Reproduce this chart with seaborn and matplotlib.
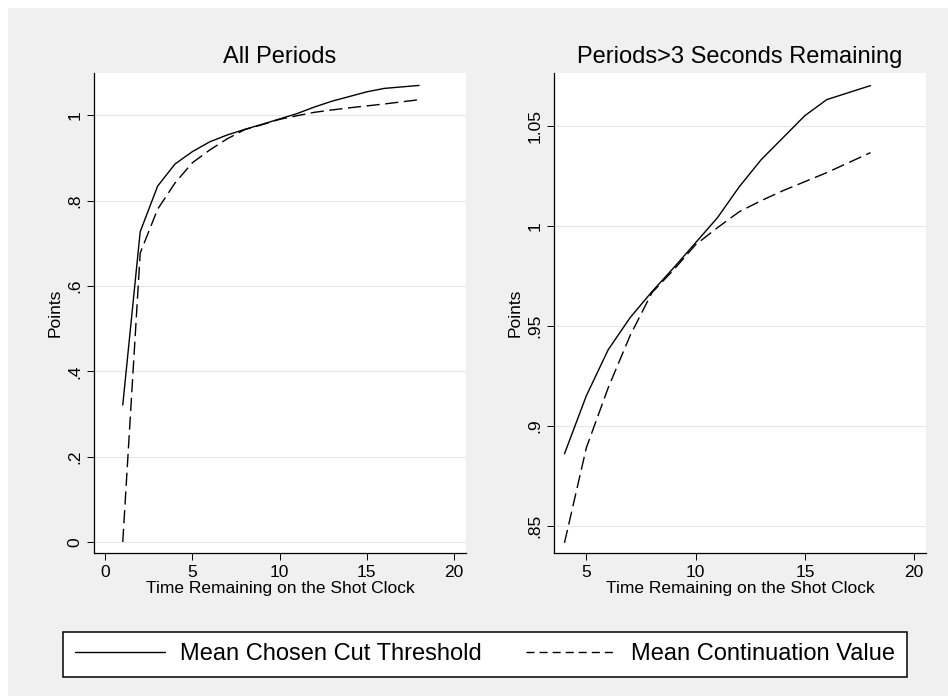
import pandas as pd
import matplotlib
matplotlib.use('Agg')
import matplotlib.pyplot as plt
import seaborn as sns

# chart data
time_left = [1, 2, 3, 4, 5, 6, 7, 8, 9, 10, 11, 12, 13, 14, 15, 16, 18]
cut_threshold = [0.321, 0.727, 0.834, 0.886, 0.915, 0.938, 0.954, 0.967, 0.979,
                 0.9915, 1.004, 1.0195, 1.033, 1.044, 1.055, 1.063, 1.070]
continuation = [0.0, 0.677, 0.78, 0.8415, 0.889, 0.919, 0.945, 0.9665, 0.978,
                0.9905, 0.999, 1.007, 1.0125, 1.0175, 1.022, 1.0265, 1.0365]

series_names = ['Mean Chosen Cut Threshold', 'Mean Continuation Value']
panel_titles = ['All Periods', 'Periods>3 Seconds Remaining']

left_yticks = [0, 0.2, 0.4, 0.6, 0.8, 1]
left_ylabels = ['0', '.2', '.4', '.6', '.8', '1']
right_yticks = [0.85, 0.9, 0.95, 1, 1.05]
right_ylabels = ['.85', '.9', '.95', '1', '1.05']
left_xticks = [0, 5, 10, 15, 20]
right_xticks = [5, 10, 15, 20]

#build long table
df = pd.DataFrame({'time': time_left * 2,
                   'points': cut_threshold + continuation,
                   'series': [series_names[0]] * len(time_left) + [series_names[1]] * len(time_left)})
df_late = df[df.time > 3]

sns.set_style('ticks', {'axes.edgecolor': 'black', 'axes.grid': True,
                        'grid.color': '#e6e6e6', 'axes.spines.top': False,
                        'axes.spines.right': False, 'text.color': 'black',
                        'axes.labelcolor': 'black', 'xtick.color': 'black',
                        'ytick.color': 'black'})
plt.rcParams['font.family'] = ['Liberation Sans', 'DejaVu Sans']
plt.rcParams['axes.linewidth'] = 0.9
plt.rcParams['grid.linewidth'] = 0.8

fig = plt.figure(figsize=(9.48, 6.96), dpi=100)
fig.patch.set_facecolor('white')
fig.patches.append(plt.Rectangle((8 / 948, 0), 1, 1 - 8 / 696, transform=fig.transFigure,
                                 facecolor='#f0f0f0', edgecolor='none', zorder=-10))

ax1 = fig.add_axes([94 / 948, 1 - 553 / 696, 372 / 948, 480 / 696])
ax2 = fig.add_axes([554 / 948, 1 - 553 / 696, 372 / 948, 480 / 696])

dash_map = {series_names[0]: '', series_names[1]: (9.5, 4)}
pal = {series_names[0]: 'black', series_names[1]: 'black'}

panels = [(ax1, df, (-0.65, 20.69), (-0.0258, 1.0991), left_xticks, left_yticks, left_ylabels),
          (ax2, df_late, (3.52, 20.54), (0.8364, 1.0763), right_xticks, right_yticks, right_ylabels)]

for i, (ax, data, xlim, ylim, xt, yt, yl) in enumerate(panels):
    sns.lineplot(data=data, x='time', y='points', hue='series', style='series',
                 palette=pal, dashes=dash_map, linewidth=1.0, ax=ax, legend=False)
    ax.set_facecolor('white')
    ax.set_xlim(*xlim)
    ax.set_ylim(*ylim)
    ax.set_xticks(xt)
    ax.set_yticks(yt)
    ax.set_yticklabels(yl, rotation=90, va='center')
    ax.grid(axis='x', visible=False)
    ax.grid(axis='y', visible=True)
    ax.tick_params(length=5, width=0.7, labelsize=12.5, pad=3.5, color='black',
                   labelcolor='black')
    ax.set_xlabel('Time Remaining on the Shot Clock', fontsize=12.5, labelpad=1, color='black')
    ax.set_ylabel('Points', fontsize=12.5, labelpad=3, color='black')
    ax.set_title(panel_titles[i], fontsize=17, pad=7, color='black')

#shared legend at bottom
handles = [plt.Line2D([], [], color='black', lw=1.0),
           plt.Line2D([], [], color='black', lw=1.0, dashes=(5.8, 3.6))]
leg = fig.legend(handles, series_names, loc='center', bbox_to_anchor=(485 / 948, 1 - 654.5 / 696),
                 ncol=2, fontsize=17, frameon=True, fancybox=False, framealpha=1,
                 edgecolor='black', handlelength=3.8, handletextpad=0.64,
                 columnspacing=1.9, borderpad=0.5, borderaxespad=0)
leg.get_frame().set_linewidth(1.1)
for t in leg.get_texts():
    t.set_color('black')

fig.savefig('out.png', dpi=100)
